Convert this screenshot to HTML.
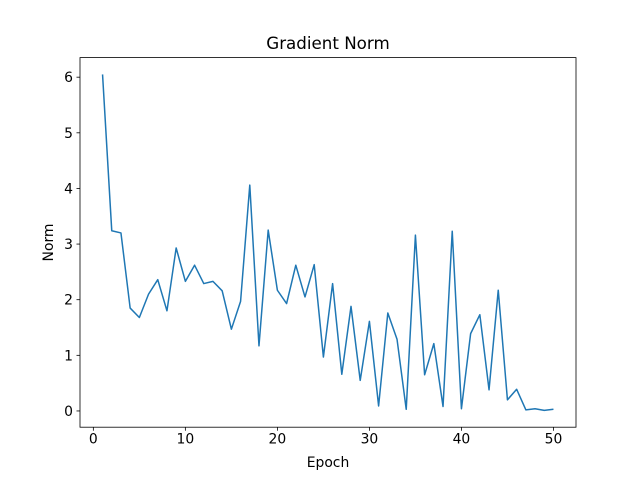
<!DOCTYPE html>
<html><head><meta charset="utf-8"><style>
html,body{margin:0;padding:0;background:#fff;}
svg text{font-family:"DejaVu Sans","Liberation Sans",sans-serif;fill:#000;}
</style></head><body>
<svg id="chart" width="640" height="480" xmlns="http://www.w3.org/2000/svg">
<rect width="640" height="480" fill="#fff"/>
<text x="328" y="49" font-size="16.7" text-anchor="middle">Gradient Norm</text>
<text x="328" y="467" font-size="13.9" text-anchor="middle">Epoch</text>
<text transform="translate(53,242.5) rotate(-90)" font-size="13.9" text-anchor="middle">Norm</text>
<g id="ticks"></g>
<path id="line" fill="none" stroke="#1f77b4" stroke-width="1.5" stroke-linejoin="round"/>
<rect x="80" y="57.6" width="496" height="369.6" fill="none" stroke="#000" stroke-width="0.8"/>
</svg>
<script>
const epochs = Array.from({length:50},(_,i)=>i+1);
const norms = [6.05,3.24,3.2,1.85,1.68,2.1,2.36,1.8,2.93,2.33,2.62,2.29,2.33,2.16,1.47,1.97,4.06,1.17,3.25,2.17,1.93,2.62,2.05,2.63,0.97,2.29,0.66,1.88,0.55,1.61,0.09,1.76,1.29,0.03,3.16,0.65,1.21,0.08,3.23,0.04,1.39,1.73,0.38,2.17,0.2,0.39,0.02,0.04,0.01,0.03];
const xTicks = [0,10,20,30,40,50];
const yTicks = [0,1,2,3,4,5,6];

const L=80,R=576,T=57.6,B=427.2;
const xmin=Math.min(...epochs),xmax=Math.max(...epochs),xm=(xmax-xmin)*0.05;
const ymin=Math.min(...norms),ymax=Math.max(...norms),ym=(ymax-ymin)*0.05;
const x0=xmin-xm,x1=xmax+xm,y0=ymin-ym,y1=ymax+ym;
const sx=v=>L+(v-x0)/(x1-x0)*(R-L);
const sy=v=>B-(v-y0)/(y1-y0)*(B-T);
const NS="http://www.w3.org/2000/svg";
const g=document.getElementById('ticks');
function mk(tag,attrs,txt){const e=document.createElementNS(NS,tag);for(const k in attrs)e.setAttribute(k,attrs[k]);if(txt!==undefined)e.textContent=txt;g.appendChild(e);return e;}
xTicks.forEach(v=>{const X=sx(v);
 const t=mk('line',{x1:X,x2:X,y1:B,y2:B+3.5,stroke:'#000','stroke-width':0.8});
 
 
 const l=mk('text',{x:X,y:B+16.5,'font-size':13.9,'text-anchor':'middle'},String(v));
 
 
});
yTicks.forEach(v=>{const Y=sy(v);
 const t=mk('line',{x1:L-3.5,x2:L,y1:Y,y2:Y,stroke:'#000','stroke-width':0.8});
 
 
 const l=mk('text',{x:L-7,y:Y+5,'font-size':13.9,'text-anchor':'end'},String(v));
 
 
});
document.getElementById('line').setAttribute('d',epochs.map((e,i)=>(i?'L':'M')+sx(e).toFixed(2)+' '+sy(norms[i]).toFixed(2)).join(' '));
</script>
</body></html>
